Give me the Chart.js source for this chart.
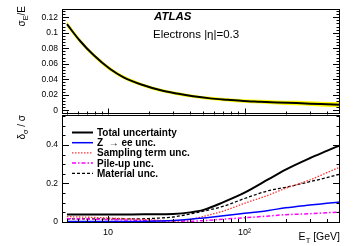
<!DOCTYPE html>
<html>
<head>
<meta charset="utf-8">
<script src="https://cdn.jsdelivr.net/npm/chart.js@4.4.1/dist/chart.umd.min.js"></script>
<style>
  html, body { margin: 0; padding: 0; background: #fff; }
  #wrap { position: relative; width: 361px; height: 246px; }
  #wrap canvas { position: absolute; left: 0; top: 0; }
</style>
</head>
<body>
<div id="wrap">
  <canvas id="resChart" width="361" height="246"></canvas>
  <canvas id="uncChart" width="361" height="246"></canvas>
</div>
<script>
// top panel: relative resolution with its uncertainty band
const resEnergy = [5, 6.2, 7.8, 10.3, 13, 18, 24, 32, 42, 56, 75, 98, 130, 172, 240, 360, 500];
const resValue = [0.111, 0.090, 0.0715, 0.0535, 0.0425, 0.0325, 0.026, 0.0215, 0.018, 0.0153, 0.0135, 0.012, 0.011, 0.010, 0.0092, 0.0080, 0.0071];
const resUpper = [0.1145, 0.093, 0.0743, 0.056, 0.0448, 0.0346, 0.028, 0.0235, 0.020, 0.0173, 0.0156, 0.0142, 0.0134, 0.0126, 0.0121, 0.0111, 0.0105];
const resLower = [0.1075, 0.087, 0.0687, 0.051, 0.0402, 0.0304, 0.024, 0.0195, 0.016, 0.0133, 0.0114, 0.0098, 0.0086, 0.0074, 0.0063, 0.0049, 0.0037];

// bottom panel: relative uncertainty components
const uncEnergy = [5, 7, 10, 15, 20, 30, 40, 50, 70, 100, 150, 200, 300, 400, 500];
const totalUnc = [0.039, 0.039, 0.039, 0.039, 0.040, 0.042, 0.050, 0.063, 0.103, 0.152, 0.222, 0.272, 0.331, 0.369, 0.398];
const zeeUnc = [0.002, 0.002, 0.002, 0.003, 0.004, 0.008, 0.014, 0.021, 0.032, 0.045, 0.060, 0.074, 0.088, 0.097, 0.104];
const samplingUnc = [0.028, 0.025, 0.021, 0.016, 0.012, 0.006, 0.013, 0.029, 0.057, 0.097, 0.140, 0.175, 0.218, 0.256, 0.285];
const pileupUnc = [0.017, 0.015, 0.013, 0.010, 0.008, 0.005, 0.004, 0.007, 0.015, 0.022, 0.031, 0.038, 0.043, 0.048, 0.052];
const materialUnc = [0.016, 0.016, 0.016, 0.016, 0.018, 0.026, 0.042, 0.056, 0.082, 0.122, 0.163, 0.180, 0.209, 0.230, 0.248];

const xTickValues = [10, 100];
const xTickLabels = ['10', '10\u00b2'];
const xMinorValues = [5, 6, 7, 8, 9, 20, 30, 40, 50, 60, 70, 80, 90, 200, 300, 400];
const resTickValues = [0, 0.02, 0.04, 0.06, 0.08, 0.1, 0.12];
const uncTickValues = [0, 0.2, 0.4];

const FONT = '"Liberation Sans", Arial, Helvetica, sans-serif';
Chart.defaults.font.family = FONT;
Chart.defaults.color = '#000';
Chart.defaults.animation = false;

function pts(xs, ys) {
  return xs.map((x, i) => ({ x: x, y: ys[i] }));
}

// text with subscripts, optionally rotated, anchored at its end when align is 'right'
function richText(ctx, parts, x, y, size, align, rotate) {
  ctx.save();
  ctx.translate(x, y);
  if (rotate) ctx.rotate(-Math.PI / 2);
  ctx.fillStyle = '#000';
  ctx.textBaseline = 'alphabetic';
  const fonts = parts.map(p => (p[1] ? size * 0.72 : size) + 'px ' + FONT);
  let w = 0;
  parts.forEach((p, i) => { ctx.font = fonts[i]; w += ctx.measureText(p[0]).width; });
  let cx = align === 'right' ? -w : 0;
  parts.forEach((p, i) => {
    ctx.font = fonts[i];
    ctx.fillText(p[0], cx, p[1] ? size * 0.3 : 0);
    cx += ctx.measureText(p[0]).width;
  });
  ctx.restore();
}

// ROOT-like frame with inward ticks
const frameTicks = {
  id: 'frameTicks',
  afterDatasetsDraw(chart, args, opts) {
    const { ctx, chartArea: a, scales } = chart;
    ctx.save();
    ctx.strokeStyle = '#000';
    ctx.lineWidth = 1;
    ctx.beginPath();
    const ys = scales.y;
    for (let v = opts.yFrom; v <= opts.yTo + 1e-9; v += opts.yMinorStep) {
      const p = Math.round(ys.getPixelForValue(v)) + 0.5;
      const isMajor = opts.yMajor.some(m => Math.abs(m - v) < 1e-6);
      const len = isMajor ? 7 : 3.5;
      ctx.moveTo(a.left, p); ctx.lineTo(a.left + len, p);
      ctx.moveTo(a.right, p); ctx.lineTo(a.right - len, p);
    }
    const xs = scales.x;
    xTickValues.forEach(v => {
      const p = Math.round(xs.getPixelForValue(v)) + 0.5;
      ctx.moveTo(p, a.bottom); ctx.lineTo(p, a.bottom - 6);
    });
    xMinorValues.forEach(v => {
      const p = Math.round(xs.getPixelForValue(v)) + 0.5;
      ctx.moveTo(p, a.bottom); ctx.lineTo(p, a.bottom - 3);
    });
    ctx.stroke();
    ctx.strokeRect(Math.round(a.left) + 0.5, Math.round(a.top) + 0.5,
      Math.round(a.right - a.left) - 1, Math.round(a.bottom - a.top) - 1);
    ctx.restore();
  }
};

const resText = {
  id: 'resText',
  afterDraw(chart) {
    const ctx = chart.ctx;
    ctx.save();
    ctx.fillStyle = '#000';
    ctx.font = 'italic bold 11.5px ' + FONT;
    ctx.fillText('ATLAS', 154, 20);
    ctx.font = '11.5px ' + FONT;
    ctx.fillText('Electrons |\u03b7|=0.3', 153, 38);
    ctx.restore();
    richText(ctx, [['\u03c3', false], ['E', true], ['/E', false]], 25, 6, 10, 'right', true);
  }
};

const uncText = {
  id: 'uncText',
  afterDraw(chart) {
    const ctx = chart.ctx;
    ctx.save();
    ctx.font = 'bold 10px ' + FONT;
    ctx.fillStyle = '#000';
    chart.data.datasets.forEach((ds, i) => {
      const y = 132.5 + i * 10.2;
      ctx.beginPath();
      ctx.strokeStyle = ds.borderColor;
      ctx.lineWidth = ds.borderWidth;
      ctx.setLineDash(ds.borderDash || []);
      ctx.moveTo(72, y); ctx.lineTo(93, y);
      ctx.stroke();
      ctx.fillText(ds.label, 97, y + 3.5);
    });
    ctx.restore();
    richText(ctx, [['\u03b4', false], ['\u03c3', true], [' / \u03c3', false]], 25, 115, 10, 'right', true);
    richText(ctx, [['E', false], ['T', true], [' [GeV]', false]], 340, 239.5, 10.5, 'right', false);
  }
};

function xScale(show) {
  return {
    type: 'logarithmic',
    min: 4.6,
    max: 500,
    display: show,
    afterBuildTicks: s => { s.ticks = xTickValues.map(v => ({ value: v })); },
    afterFit: s => { s.height = show ? 24 : 0; },
    grid: { display: false, drawTicks: false },
    border: { display: false },
    ticks: {
      autoSkip: false,
      maxRotation: 0,
      padding: 5,
      font: { size: 9 },
      color: '#000',
      callback: (v, i) => xTickLabels[i]
    }
  };
}

function yScale(min, max, values) {
  return {
    type: 'linear',
    min: min,
    max: max,
    afterBuildTicks: s => { s.ticks = values.map(v => ({ value: v })); },
    afterFit: s => { s.width = 62; },
    grid: { display: false, drawTicks: false },
    border: { display: false },
    ticks: {
      autoSkip: false,
      padding: 4,
      font: { size: 8.5 },
      color: '#000',
      callback: v => String(v)
    }
  };
}

new Chart(document.getElementById('resChart'), {
  type: 'line',
  data: {
    datasets: [
      {
        label: 'resolution',
        data: pts(resEnergy, resValue),
        borderColor: '#000',
        borderWidth: 2,
        pointRadius: 0,
        cubicInterpolationMode: 'monotone',
        fill: false
      },
      {
        label: 'band up',
        data: pts(resEnergy, resUpper),
        borderWidth: 0,
        borderColor: 'rgba(0,0,0,0)',
        backgroundColor: '#ffff00',
        pointRadius: 0,
        cubicInterpolationMode: 'monotone',
        fill: '+1'
      },
      {
        label: 'band low',
        data: pts(resEnergy, resLower),
        borderWidth: 0,
        borderColor: 'rgba(0,0,0,0)',
        pointRadius: 0,
        cubicInterpolationMode: 'monotone',
        fill: false
      }
    ]
  },
  options: {
    responsive: false,
    devicePixelRatio: 1,
    animation: false,
    layout: { padding: { left: 0, right: 21, top: 5, bottom: 131.5 } },
    plugins: {
      legend: { display: false },
      tooltip: { enabled: false },
      frameTicks: { yMajor: resTickValues, yFrom: 0, yTo: 0.128, yMinorStep: 0.004 }
    },
    scales: {
      x: xScale(false),
      y: yScale(-0.0055, 0.1305, resTickValues)
    }
  },
  plugins: [frameTicks, resText]
});

new Chart(document.getElementById('uncChart'), {
  type: 'line',
  data: {
    datasets: [
      { label: 'Total uncertainty', data: pts(uncEnergy, totalUnc), borderColor: '#000', borderWidth: 2 },
      { label: 'Z  \u2192 ee unc.', data: pts(uncEnergy, zeeUnc), borderColor: '#0000ff', borderWidth: 1.5 },
      { label: 'Sampling term unc.', data: pts(uncEnergy, samplingUnc), borderColor: '#ff3333', borderWidth: 1.3, borderDash: [1.5, 1.5] },
      { label: 'Pile-up unc.', data: pts(uncEnergy, pileupUnc), borderColor: '#ff00ff', borderWidth: 1.5, borderDash: [4, 2, 1.5, 2] },
      { label: 'Material unc.', data: pts(uncEnergy, materialUnc), borderColor: '#000', borderWidth: 1.3, borderDash: [3, 2] }
    ]
  },
  options: {
    responsive: false,
    devicePixelRatio: 1,
    animation: false,
    datasets: { line: { pointRadius: 0, cubicInterpolationMode: 'monotone', fill: false } },
    layout: { padding: { left: 0, right: 21, top: 114.5, bottom: 0 } },
    plugins: {
      legend: { display: false },
      tooltip: { enabled: false },
      frameTicks: { yMajor: uncTickValues, yFrom: 0, yTo: 0.55, yMinorStep: 0.05 }
    },
    scales: {
      x: xScale(true),
      y: yScale(0, 0.558, uncTickValues)
    }
  },
  plugins: [frameTicks, uncText]
});
</script>
</body>
</html>
